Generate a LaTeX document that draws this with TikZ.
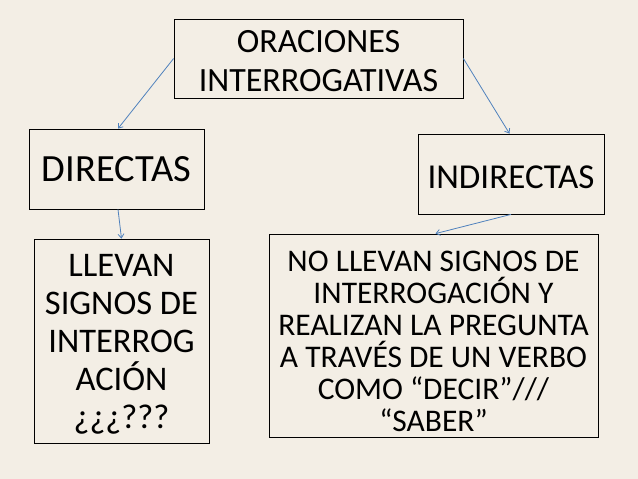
\documentclass[tikz,border=0pt]{standalone}
\usepackage{fontspec}
\setmainfont{Carlito}
\usetikzlibrary{arrows.meta}
\definecolor{paper}{RGB}{243,238,229}
\definecolor{arrowblue}{RGB}{79,129,189}
\tikzset{
  box/.style={draw=black, line width=0.8pt, inner sep=0pt, align=center},
  conn/.style={draw=arrowblue, line width=0.8pt, -{Straight Barb[length=4pt,width=6pt]}},
}
\begin{document}
\begin{tikzpicture}[x=1pt,y=-1pt]
\fill[paper] (0,0) rectangle (638,479);
\useasboundingbox (0,0) rectangle (638,479);
\node[box, minimum width=289pt, minimum height=79pt, font=\fontsize{34}{39}\selectfont] (top) at (318.5,58.5) {\rule{0pt}{28pt}ORACIONES\\INTERROGATIVAS};
\node[box, minimum width=175pt, minimum height=80pt, font=\fontsize{38.5}{42}\selectfont] (dir) at (116.5,169) {DIRECTAS};
\node[box, minimum width=186pt, minimum height=80pt, font=\fontsize{35}{40}\selectfont] (ind) at (511,174) {\rule{0pt}{30pt}INDIRECTAS};
\node[box, minimum width=175pt, minimum height=204pt, font=\fontsize{34.5}{38}\selectfont] (lle) at (121.5,341) {\rule{0pt}{28pt}LLEVAN\\SIGNOS DE\\INTERROG\\ACIÓN\\¿¿¿???};
\node[box, minimum width=329pt, minimum height=203pt, font=\fontsize{31.5}{32}\selectfont] (nol) at (433.5,335.5) {\rule{0pt}{32pt}NO LLEVAN SIGNOS DE\\INTERROGACIÓN Y\\REALIZAN LA PREGUNTA\\A TRAVÉS DE UN VERBO\\COMO “DECIR”///\\“SABER”};
\draw[conn] (top.west) -- ([xshift=1.5pt]dir.north);
\draw[conn] (top.east) -- ([xshift=-1.5pt]ind.north);
\draw[conn] ([xshift=1.5pt]dir.south) -- (lle.north);
\draw[conn] (ind.south) -- ([xshift=2pt]nol.north);
\end{tikzpicture}
\end{document}
